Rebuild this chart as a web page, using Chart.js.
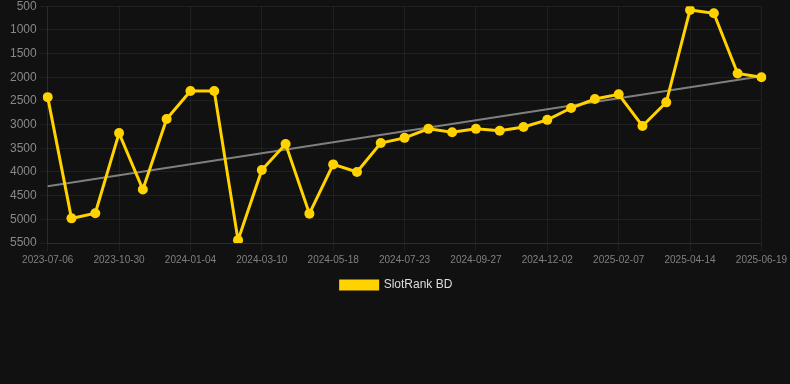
<!DOCTYPE html>
<html>
<head>
<meta charset="utf-8">
<script src="https://cdn.jsdelivr.net/npm/chart.js@4"></script>
<style>
  html, body { margin: 0; padding: 0; background: #111111; overflow: hidden; }
  #wrap { width: 790px; height: 305px; margin-top: -4px; position: relative; }
</style>
</head>
<body>
<div id="wrap"><canvas id="rankChart"></canvas></div>
<script>
// dates (one every ~3 weeks), only every 3rd is shown on the axis
const dates = [
  '2023-07-06', '2023-08-13', '2023-09-21', '2023-10-30', '2023-11-21', '2023-12-13',
  '2024-01-04', '2024-01-26', '2024-02-17', '2024-03-10', '2024-04-02', '2024-04-25',
  '2024-05-18', '2024-06-09', '2024-07-01', '2024-07-23', '2024-08-14', '2024-09-05',
  '2024-09-27', '2024-10-19', '2024-11-10', '2024-12-02', '2024-12-24', '2025-01-16',
  '2025-02-07', '2025-03-01', '2025-03-23', '2025-04-14', '2025-05-06', '2025-05-28',
  '2025-06-19'
];

// rank values
const ranks = [
  2420, 4980, 4870, 3180, 4370, 2880,
  2290, 2290, 5440, 3960, 3410, 4880,
  3840, 4000, 3390, 3280, 3090, 3160,
  3090, 3130, 3050, 2900, 2650, 2460,
  2360, 3030, 2530, 580, 650, 1920,
  2000
];

// trend line: only the two ends, gaps spanned
const trend = dates.map(() => null);
trend[0] = 4300;
trend[trend.length - 1] = 1980;

const yTicks = [500, 1000, 1500, 2000, 2500, 3000, 3500, 4000, 4500, 5000, 5500];

const gridColor = 'rgba(255,255,255,0.06)';
const font = 'Arial, "Liberation Sans", sans-serif';

new Chart(document.getElementById('rankChart'), {
  type: 'line',
  data: {
    labels: dates,
    datasets: [
      {
        label: 'SlotRank BD',
        data: ranks,
        borderColor: '#FFD200',
        backgroundColor: '#FFD200',
        borderWidth: 3,
        pointRadius: 5,
        pointBackgroundColor: '#FFD200',
        pointBorderWidth: 0,
        tension: 0,
        order: 1
      },
      {
        label: 'trend',
        data: trend,
        spanGaps: true,
        borderColor: 'rgba(140,140,140,0.9)',
        borderWidth: 2,
        pointRadius: 0,
        order: 2
      }
    ]
  },
  options: {
    responsive: true,
    maintainAspectRatio: false,
    animation: false,
    layout: { padding: { left: 7, right: 4 } },
    plugins: {
      legend: {
        position: 'bottom',
        labels: {
          color: '#dddddd',
          font: { family: font, size: 12 },
          boxWidth: 37,
          boxHeight: 8,
          filter: item => item.text !== 'trend'
        }
      },
      tooltip: { enabled: false }
    },
    scales: {
      x: {
        grid: {
          color: ctx => (ctx.index % 3 === 0 ? gridColor : 'transparent')
        },
        border: { color: gridColor },
        ticks: {
          autoSkip: false,
          maxRotation: 0,
          color: '#808080',
          font: { family: font, size: 10 },
          callback: function (val, i) { return i % 3 === 0 ? dates[i] : ''; }
        }
      },
      y: {
        reverse: true,
        min: 500,
        max: 5500,
        afterBuildTicks: axis => { axis.ticks = yTicks.map(v => ({ value: v })); },
        grid: { color: gridColor },
        border: { color: gridColor },
        ticks: {
          color: '#888888',
          font: { family: font, size: 12 },
          callback: v => String(v)
        }
      }
    }
  }
});
</script>
</body>
</html>
